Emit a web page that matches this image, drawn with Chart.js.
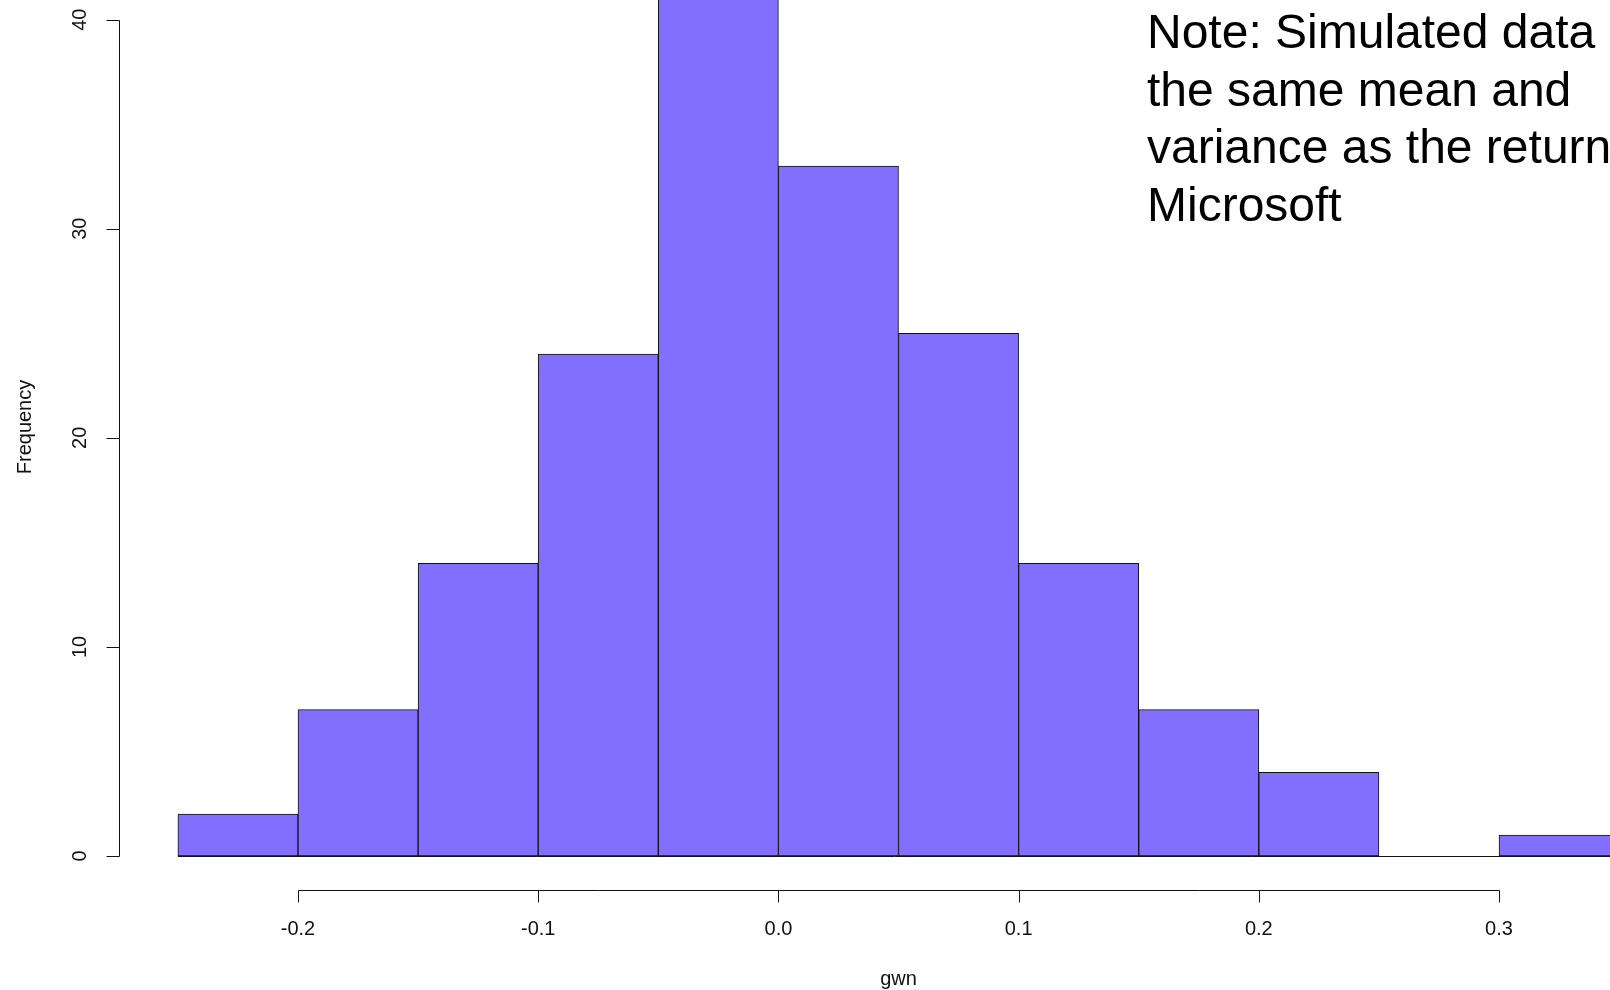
<!DOCTYPE html>
<html>
<head>
<meta charset="utf-8">
<title>gwn histogram</title>
<script src="https://cdn.jsdelivr.net/npm/chart.js@4.4.1/dist/chart.umd.min.js"></script>
<style>
  html, body { margin: 0; padding: 0; background: #fff; overflow: hidden; }
  canvas { display: block; }
</style>
</head>
<body>
<canvas id="histChart" width="1610" height="990"></canvas>
<script>
// histogram of simulated returns
const binEdges = [-0.25, -0.20, -0.15, -0.10, -0.05, 0.00, 0.05, 0.10, 0.15, 0.20, 0.25, 0.30, 0.35];
const counts = [2, 7, 14, 24, 42, 33, 25, 14, 7, 4, 0, 1];

const xTicks = [-0.2, -0.1, 0.0, 0.1, 0.2, 0.3];
const xTickLabels = ['-0.2', '-0.1', '0.0', '0.1', '0.2', '0.3'];
const yTicks = [0, 10, 20, 30, 40];
const yTickLabels = ['0', '10', '20', '30', '40'];

const xTitle = 'gwn';
const yTitle = 'Frequency';
const noteLines = [
    'Note: Simulated data has',
    'the same mean and',
    'variance as the returns',
    'Microsoft'
];

const barColor = '#836FFF';
const labelFont = '20px "Liberation Sans", Arial, sans-serif';

// one bar per bin, centred between its edges
const bars = counts.map(function (c, i) {
    return { x: (binEdges[i] + binEdges[i + 1]) / 2, y: c };
});

// R-style axes: lines only span the first to last tick
const rAxes = {
    id: 'rAxes',
    afterDatasetsDraw: function (chart) {
        const c = chart.ctx;
        const xs = chart.scales.x;
        const ys = chart.scales.y;
        const area = chart.chartArea;
        const y0 = Math.round(ys.getPixelForValue(0)) + 0.5;

        c.save();
        c.strokeStyle = '#111';
        c.lineWidth = 1;

        // bottom edge of every bin (shows the empty one too)
        c.beginPath();
        c.moveTo(xs.getPixelForValue(binEdges[0]), y0);
        c.lineTo(xs.getPixelForValue(binEdges[binEdges.length - 1]), y0);
        c.stroke();

        // x axis
        const xl = Math.round(area.bottom) - 0.5;
        c.beginPath();
        c.moveTo(Math.round(xs.getPixelForValue(xTicks[0])) + 0.5, xl);
        c.lineTo(Math.round(xs.getPixelForValue(xTicks[xTicks.length - 1])) + 0.5, xl);
        xTicks.forEach(function (v) {
            const px = Math.round(xs.getPixelForValue(v)) + 0.5;
            c.moveTo(px, xl);
            c.lineTo(px, xl + 12);
        });
        c.stroke();

        // y axis
        const yl = Math.round(area.left) - 0.5;
        c.beginPath();
        c.moveTo(yl, Math.round(ys.getPixelForValue(yTicks[0])) + 0.5);
        c.lineTo(yl, Math.round(ys.getPixelForValue(yTicks[yTicks.length - 1])) + 0.5);
        yTicks.forEach(function (v) {
            const py = Math.round(ys.getPixelForValue(v)) + 0.5;
            c.moveTo(yl, py);
            c.lineTo(yl - 13, py);
        });
        c.stroke();

        c.fillStyle = '#111';
        c.font = labelFont;
        c.textAlign = 'center';
        c.textBaseline = 'middle';

        xTicks.forEach(function (v, i) {
            c.fillText(xTickLabels[i], xs.getPixelForValue(v), xl + 39);
        });
        c.fillText(xTitle, xs.getPixelForValue((binEdges[0] + binEdges[binEdges.length - 1]) / 2), 979);

        yTicks.forEach(function (v, i) {
            c.save();
            c.translate(yl - 39, ys.getPixelForValue(v));
            c.rotate(-Math.PI / 2);
            c.fillText(yTickLabels[i], 0, 0);
            c.restore();
        });

        c.save();
        c.translate(25, 427);
        c.rotate(-Math.PI / 2);
        c.fillText(yTitle, 0, 0);
        c.restore();

        // note in the upper right corner
        c.fillStyle = '#000';
        c.font = '48px "Liberation Sans", Arial, sans-serif';
        c.textAlign = 'left';
        c.textBaseline = 'alphabetic';
        noteLines.forEach(function (line, i) {
            c.fillText(line, 1147, 48 + i * 57.5);
        });

        c.restore();
    }
};

const ctx = document.getElementById('histChart').getContext('2d');

new Chart(ctx, {
    type: 'bar',
    data: {
        datasets: [{
            label: 'gwn',
            data: bars,
            backgroundColor: barColor,
            borderColor: '#111',
            borderWidth: 1,
            borderSkipped: false,
            barPercentage: 1.0,
            categoryPercentage: 1.0
        }]
    },
    options: {
        responsive: false,
        animation: false,
        devicePixelRatio: 1,
        layout: { padding: { left: 120, right: 0, top: 0, bottom: 99 } },
        scales: {
            x: {
                type: 'linear',
                display: false,
                offset: false,
                min: -0.2741,
                max: 0.3462,
                afterBuildTicks: function (scale) {
                    scale.ticks = xTicks.map(function (v) { return { value: v }; });
                }
            },
            y: {
                type: 'linear',
                display: false,
                min: -1.674,
                max: 40.94,
                afterBuildTicks: function (scale) {
                    scale.ticks = yTicks.map(function (v) { return { value: v }; });
                }
            }
        },
        plugins: {
            legend: { display: false },
            tooltip: { enabled: true }
        }
    },
    plugins: [rAxes]
});
</script>
</body>
</html>
